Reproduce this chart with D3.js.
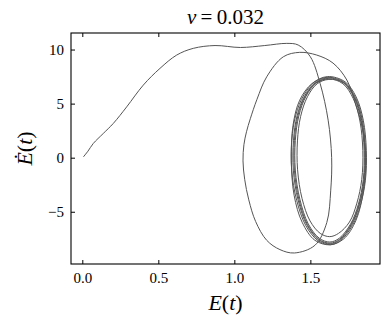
<!DOCTYPE html>
<html>
<head>
<meta charset="utf-8">
<script src="https://cdn.jsdelivr.net/npm/d3@7"></script>
</head>
<body style="margin:0">
<svg id="chart" width="389" height="327" font-family="Liberation Serif"></svg>
<script>
const serif = 'Liberation Serif';

// ticks
const xTicks = [0.0, 0.5, 1.0, 1.5];
const yTicks = [10, 5, 0, -5];

// transient part of the trajectory, [E, dE/dt]
const transient = [
  [0.007, 0.07], [0.037, 0.6], [0.072, 1.31], [0.138, 2.24], [0.204, 3.17],
  [0.292, 4.70], [0.401, 6.71], [0.511, 8.26], [0.621, 9.49], [0.730, 10.11],
  [0.873, 10.37], [1.04, 10.19], [1.20, 10.37], [1.345, 10.57], [1.42, 10.42],
  [1.50, 9.33], [1.564, 6.87], [1.617, 3.47], [1.640, 0.0], [1.634, -3.0],
  [1.608, -6.0], [1.53, -8.1], [1.395, -8.81], [1.30, -8.5], [1.213, -7.64],
  [1.14, -5.9], [1.095, -3.9], [1.068, -2.0], [1.057, -0.3], [1.063, 1.2],
  [1.080, 2.4], [1.105, 3.6], [1.149, 5.4], [1.213, 7.48], [1.322, 9.33],
  [1.43, 9.74], [1.542, 9.49], [1.649, 8.75], [1.74, 7.18], [1.80, 4.86],
  [1.845, 2.55], [1.865, 0.05], [1.85, -3.0], [1.80, -5.79], [1.72, -7.5],
  [1.63, -8.05], [1.53, -7.64], [1.446, -5.97], [1.393, -3.47], [1.375, -0.23],
  [1.386, 3.0], [1.43, 5.32], [1.51, 6.85], [1.613, 7.5]
];

// loops settling onto the limit cycle
const cycleA = [
  [1.613, 7.5], [1.728, 7.02], [1.801, 5.62], [1.848, 3.47], [1.868, 0.69],
  [1.862, -2.08], [1.829, -4.4], [1.776, -6.28], [1.697, -7.68], [1.632, -8.05],
  [1.551, -7.68], [1.470, -6.28], [1.410, -3.94], [1.377, -1.16], [1.378, 1.62],
  [1.404, 3.94], [1.457, 5.8], [1.530, 7.02], [1.616, 7.44]
];
const cycleB = [
  [1.616, 7.44], [1.724, 6.96], [1.796, 5.57], [1.842, 3.45], [1.862, 0.69],
  [1.856, -2.06], [1.823, -4.36], [1.771, -6.22], [1.694, -7.6], [1.630, -7.97],
  [1.555, -7.6], [1.477, -6.22], [1.419, -3.90], [1.388, -1.15], [1.389, 1.60],
  [1.413, 3.90], [1.464, 5.75], [1.535, 6.96], [1.619, 7.38]
];
const cycleC = [
  [1.619, 7.38], [1.719, 6.9], [1.789, 5.52], [1.834, 3.42], [1.854, 0.68],
  [1.848, -2.04], [1.816, -4.3], [1.765, -6.12], [1.690, -7.45], [1.628, -7.8],
  [1.559, -7.45], [1.486, -6.12], [1.431, -3.84], [1.401, -1.14], [1.401, 1.58],
  [1.424, 3.86], [1.472, 5.7], [1.540, 6.9], [1.621, 7.3]
];
const cycleD = [
  [1.621, 7.3], [1.714, 6.84], [1.782, 5.47], [1.826, 3.39], [1.845, 0.67],
  [1.838, -2.0], [1.806, -4.2], [1.757, -5.95], [1.685, -7.0], [1.627, -7.3],
  [1.565, -7.0], [1.498, -5.85], [1.445, -3.76], [1.416, -1.12], [1.415, 1.55],
  [1.436, 3.82], [1.481, 5.64], [1.545, 6.84], [1.622, 7.24]
];
const cycleE = [
  [1.622, 7.24], [1.721, 6.92], [1.792, 5.54], [1.838, 3.43], [1.858, 0.68],
  [1.852, -2.05], [1.820, -4.34], [1.768, -6.18], [1.692, -7.55], [1.629, -7.9],
  [1.557, -7.55], [1.481, -6.18], [1.425, -3.88], [1.395, -1.15], [1.395, 1.59],
  [1.418, 3.88], [1.468, 5.72], [1.537, 6.93], [1.620, 7.34]
];
const cycles = [cycleA, cycleB, cycleC, cycleD, cycleE];

const margin = { top: 33, right: 9, bottom: 63, left: 71 };
const width = 389, height = 327;

const svg = d3.select('#chart');

const x = d3.scaleLinear()
  .domain([-0.0743, 1.958])
  .range([margin.left, width - margin.right]);
const y = d3.scaleLinear()
  .domain([-9.83, 11.53])
  .range([height - margin.bottom, margin.top]);

svg.append('clipPath').attr('id', 'clip')
  .append('rect')
  .attr('x', margin.left).attr('y', margin.top)
  .attr('width', width - margin.left - margin.right)
  .attr('height', height - margin.top - margin.bottom);

const line = d3.line()
  .x(d => x(d[0]))
  .y(d => y(d[1]))
  .curve(d3.curveCatmullRom.alpha(0.5));

const path = transient.concat(...cycles.map(c => c.slice(1)));

svg.append('g')
  .attr('clip-path', 'url(#clip)')
  .append('path')
  .datum(path)
  .attr('fill', 'none')
  .attr('stroke', '#555')
  .attr('stroke-width', 1)
  .attr('d', line);

// axes, ticks inward on all four sides
const tickLen = 4;
const fmtX = d3.format('.1f');
const fmtY = d => d < 0 ? '\u2212' + Math.abs(d) : String(d);

svg.append('g')
  .attr('transform', `translate(0,${height - margin.bottom})`)
  .call(d3.axisBottom(x).tickValues(xTicks).tickSizeInner(-tickLen).tickSizeOuter(0).tickPadding(8).tickFormat(fmtX))
  .call(g => g.select('.domain').remove());

svg.append('g')
  .attr('transform', `translate(0,${margin.top})`)
  .call(d3.axisTop(x).tickValues(xTicks).tickSizeInner(-tickLen).tickSizeOuter(0).tickFormat(''))
  .call(g => g.select('.domain').remove());

svg.append('g')
  .attr('transform', `translate(${margin.left},0)`)
  .call(d3.axisLeft(y).tickValues(yTicks).tickSizeInner(-tickLen).tickSizeOuter(0).tickPadding(7).tickFormat(fmtY))
  .call(g => g.select('.domain').remove());

svg.append('g')
  .attr('transform', `translate(${width - margin.right},0)`)
  .call(d3.axisRight(y).tickValues(yTicks).tickSizeInner(-tickLen).tickSizeOuter(0).tickFormat(''))
  .call(g => g.select('.domain').remove());

// drop d3's sans-serif default on the axis groups
svg.selectAll('g').attr('font-family', null).attr('font-size', null);

svg.selectAll('.tick line').attr('stroke', '#000').attr('stroke-width', 1);
svg.selectAll('.tick text')
  .attr('fill', '#000')
  .attr('font-family', serif)
  .attr('font-size', 15);

svg.append('rect')
  .attr('x', margin.left).attr('y', margin.top)
  .attr('width', width - margin.left - margin.right)
  .attr('height', height - margin.top - margin.bottom)
  .attr('fill', 'none')
  .attr('stroke', '#000')
  .attr('stroke-width', 1.1);

// title
const title = svg.append('text')
  .attr('x', (margin.left + width - margin.right) / 2)
  .attr('y', 24)
  .attr('text-anchor', 'middle')
  .attr('font-family', serif)
  .attr('font-size', 21);
title.append('tspan').attr('font-style', 'italic').text('\u03bd');
title.append('tspan').text('\u2009=\u20090.032');

// x label
const xl = svg.append('text')
  .attr('x', (margin.left + width - margin.right) / 2)
  .attr('y', 310)
  .attr('text-anchor', 'middle')
  .attr('font-family', serif)
  .attr('font-size', 22);
xl.append('tspan').attr('font-style', 'italic').text('E');
xl.append('tspan').text('(');
xl.append('tspan').attr('font-style', 'italic').text('t');
xl.append('tspan').text(')');

// y label
const yl = svg.append('text')
  .attr('transform', `translate(32,${(margin.top + height - margin.bottom) / 2}) rotate(-90)`)
  .attr('text-anchor', 'middle')
  .attr('font-family', serif)
  .attr('font-size', 22);
yl.append('tspan').attr('font-style', 'italic').text('\u0116');
yl.append('tspan').text('(');
yl.append('tspan').attr('font-style', 'italic').text('t');
yl.append('tspan').text(')');
</script>
</body>
</html>
